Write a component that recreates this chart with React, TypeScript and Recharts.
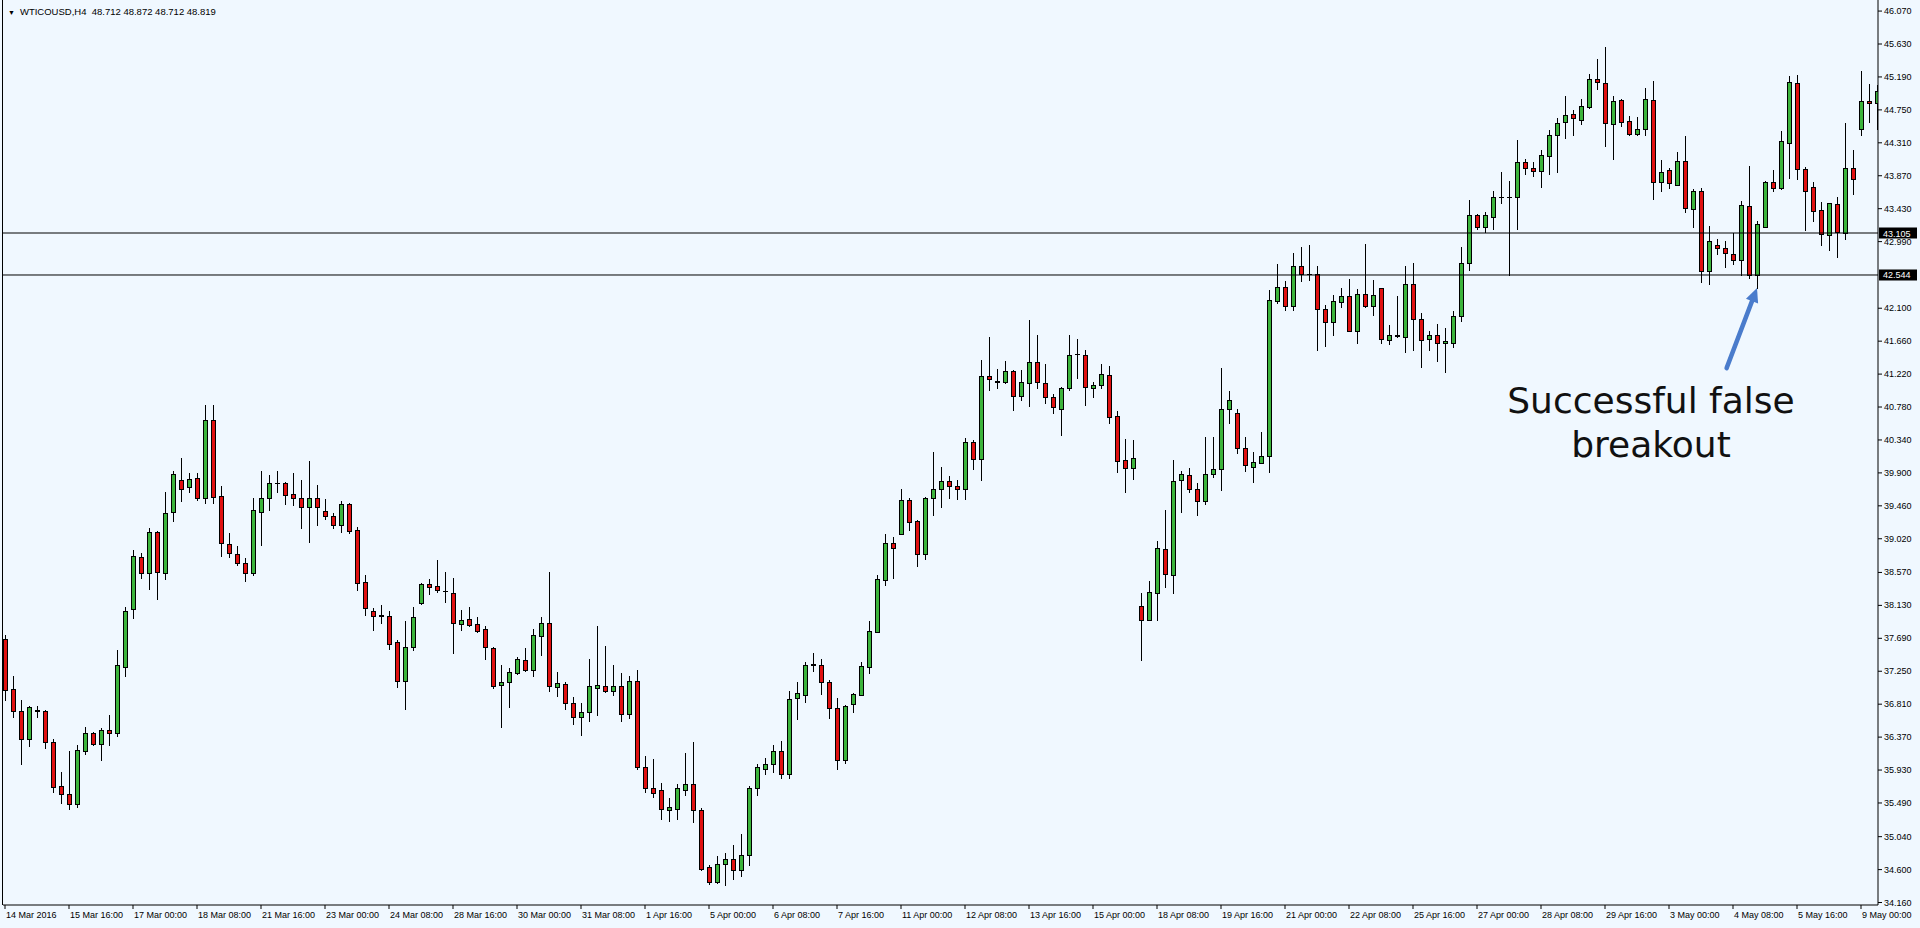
import React from 'react';
import { ComposedChart, Bar, XAxis, YAxis, ReferenceLine, ReferenceDot } from 'recharts';

const opens = [
  37.68, 37.01, 36.72, 36.34, 36.73, 36.72, 36.30, 35.72, 35.61, 35.47,
  36.19, 36.43, 36.28, 36.47, 36.42, 37.31, 38.08, 38.77, 38.56, 39.11,
  38.56, 39.38, 39.81, 39.71, 39.83, 39.57, 40.61, 39.59, 38.95, 38.81,
  38.69, 38.56, 39.38, 39.56, 39.77, 39.76, 39.62, 39.57, 39.44, 39.56,
  39.39, 39.32, 39.21, 39.48, 39.14, 38.44, 38.05, 37.99, 37.99, 37.64,
  37.12, 37.57, 38.16, 38.42, 38.39, 38.32, 38.30, 37.88, 37.95, 37.88,
  37.81, 37.56, 37.06, 37.10, 37.23, 37.40, 37.27, 37.72, 37.90, 37.04,
  37.08, 36.83, 36.64, 36.71, 37.03, 37.05, 36.99, 37.05, 36.68, 37.12,
  35.97, 35.69, 35.66, 35.40, 35.41, 35.67, 35.75, 35.39, 34.63, 34.44,
  34.67, 34.74, 34.60, 34.80, 35.69, 35.95, 36.01, 36.19, 35.88, 36.89,
  36.93, 37.34, 37.34, 37.11, 36.76, 36.06, 36.81, 36.93, 37.31, 37.77,
  38.47, 38.96, 39.09, 39.54, 39.26, 38.82, 39.56, 39.68, 39.79, 39.73,
  39.68, 40.31, 40.08, 41.20, 41.12, 41.12, 41.26, 40.93, 41.10, 41.38,
  41.10, 40.91, 40.76, 41.04, 41.49, 41.48, 41.03, 41.07, 41.21, 40.66,
  40.07, 39.96, 38.12, 37.93, 38.29, 38.88, 38.53, 39.81, 39.87, 39.69,
  39.52, 39.88, 39.95, 40.75, 40.70, 40.23, 39.98, 40.03, 40.13, 42.19,
  42.38, 42.13, 42.66, 42.56, 42.56, 42.09, 41.92, 42.18, 42.26, 41.80,
  42.29, 42.13, 42.37, 41.68, 41.74, 41.72, 42.43, 41.95, 41.69, 41.74,
  41.63, 41.64, 42.00, 42.70, 43.35, 43.18, 43.32, 43.58, 43.59, 43.58,
  44.05, 43.97, 43.94, 44.14, 44.41, 44.59, 44.69, 44.62, 44.79, 45.16,
  45.11, 44.56, 44.88, 44.60, 44.43, 44.49, 44.88, 43.78, 43.95, 43.75,
  44.07, 43.43, 43.67, 42.60, 42.94, 42.91, 42.83, 42.74, 43.47, 42.54,
  43.19, 43.78, 43.71, 44.31, 45.11, 43.96, 43.72, 43.41, 43.08, 43.49,
  43.11, 43.98, 44.50, 44.87, 44.84,
];

const highs = [
  37.73, 37.18, 36.87, 36.79, 36.78, 36.73, 36.35, 35.91, 36.18, 36.27,
  36.51, 36.44, 36.49, 36.67, 37.53, 38.11, 38.87, 38.83, 39.16, 39.13,
  39.64, 39.92, 40.10, 39.90, 39.90, 40.81, 40.81, 39.73, 39.10, 38.92,
  38.76, 39.56, 39.92, 39.87, 39.93, 39.78, 39.90, 39.81, 40.06, 39.74,
  39.55, 39.36, 39.52, 39.50, 39.18, 38.54, 38.09, 38.13, 38.06, 37.67,
  37.92, 38.11, 38.43, 38.48, 38.74, 38.57, 38.49, 38.07, 38.11, 37.97,
  37.86, 37.58, 37.33, 37.30, 37.44, 37.56, 37.82, 37.97, 38.57, 37.24,
  37.11, 36.91, 36.82, 37.41, 37.85, 37.59, 37.34, 37.22, 37.18, 37.26,
  36.12, 36.08, 35.76, 35.55, 35.75, 36.16, 36.30, 35.42, 34.66, 34.78,
  34.82, 34.93, 35.08, 35.72, 36.01, 36.09, 36.27, 36.32, 36.99, 37.10,
  37.38, 37.49, 37.42, 37.13, 36.89, 36.80, 36.96, 37.38, 37.92, 38.54,
  39.09, 39.05, 39.69, 39.57, 39.27, 39.58, 40.18, 39.98, 39.86, 39.81,
  40.37, 40.34, 41.41, 41.72, 41.29, 41.40, 41.28, 41.28, 41.94, 41.74,
  41.36, 40.95, 41.05, 41.74, 41.69, 41.54, 41.12, 41.36, 41.33, 40.73,
  40.35, 40.34, 38.29, 38.46, 38.99, 39.40, 40.07, 39.93, 39.96, 39.77,
  40.38, 40.38, 41.30, 41.00, 40.76, 40.38, 40.18, 40.44, 42.34, 42.69,
  42.47, 42.84, 42.92, 42.95, 42.67, 42.14, 42.28, 42.37, 42.49, 42.36,
  42.96, 42.48, 42.37, 41.88, 42.26, 42.66, 42.70, 42.03, 41.80, 41.89,
  41.83, 42.06, 42.92, 43.55, 43.36, 43.39, 43.67, 43.92, 43.80, 44.35,
  44.09, 44.06, 44.21, 44.48, 44.64, 44.93, 44.75, 44.90, 45.23, 45.43,
  45.59, 44.94, 44.89, 44.67, 44.66, 45.04, 45.13, 44.08, 43.97, 44.19,
  44.40, 43.69, 43.71, 43.20, 43.03, 43.00, 43.11, 43.53, 44.00, 43.27,
  43.80, 43.95, 44.47, 45.20, 45.22, 43.99, 43.79, 43.52, 43.51, 43.58,
  44.57, 44.21, 45.27, 45.10, 45.08,
];

const lows = [
  36.87, 36.64, 36.01, 36.25, 36.64, 36.23, 35.64, 35.49, 35.41, 35.43,
  36.15, 36.27, 36.07, 36.27, 36.38, 37.19, 37.96, 38.50, 38.35, 38.21,
  38.48, 39.26, 39.53, 39.65, 39.54, 39.50, 39.50, 38.79, 38.77, 38.67,
  38.46, 38.54, 38.94, 39.40, 39.65, 39.49, 39.47, 39.16, 38.98, 39.21,
  39.28, 39.17, 39.11, 39.10, 38.33, 38.00, 37.80, 37.90, 37.55, 37.04,
  36.75, 37.53, 38.15, 38.28, 38.31, 38.17, 37.50, 37.80, 37.86, 37.77,
  37.41, 37.02, 36.50, 36.77, 37.21, 37.25, 37.19, 37.47, 36.99, 36.92,
  36.75, 36.55, 36.40, 36.59, 36.66, 36.97, 36.93, 36.59, 36.63, 35.95,
  35.64, 35.57, 35.28, 35.25, 35.28, 35.60, 35.23, 34.59, 34.41, 34.42,
  34.39, 34.47, 34.52, 34.66, 35.60, 35.88, 35.91, 35.82, 35.82, 36.61,
  36.84, 37.25, 36.95, 36.63, 35.95, 36.02, 36.71, 36.93, 37.22, 37.77,
  38.40, 38.49, 39.08, 39.14, 38.66, 38.75, 39.34, 39.44, 39.57, 39.55,
  39.55, 39.95, 39.80, 41.01, 41.03, 41.10, 40.74, 40.88, 40.79, 41.04,
  40.84, 40.70, 40.41, 41.01, 41.17, 40.81, 40.92, 41.03, 40.56, 39.91,
  39.65, 39.82, 37.40, 37.93, 37.94, 38.37, 38.29, 39.38, 39.65, 39.34,
  39.49, 39.85, 39.67, 40.56, 40.16, 39.92, 39.78, 40.03, 39.91, 42.17,
  42.08, 42.08, 42.46, 42.48, 41.54, 41.60, 41.74, 42.11, 41.79, 41.63,
  42.11, 42.01, 41.63, 41.62, 41.72, 41.51, 41.54, 41.31, 41.54, 41.39,
  41.25, 41.58, 41.93, 42.61, 43.16, 43.12, 43.16, 43.51, 42.54, 43.16,
  43.90, 43.86, 43.72, 43.90, 43.92, 44.37, 44.41, 44.56, 44.78, 45.03,
  44.27, 44.09, 44.53, 44.41, 44.42, 44.41, 43.56, 43.67, 43.71, 43.74,
  43.38, 43.18, 42.45, 42.43, 42.83, 42.65, 42.69, 42.54, 42.51, 42.37,
  43.18, 43.66, 43.69, 43.84, 43.83, 43.15, 43.27, 42.94, 42.88, 42.78,
  43.03, 43.63, 44.41, 44.59, 44.50,
];

const closes = [
  37.00, 36.72, 36.34, 36.77, 36.72, 36.30, 35.71, 35.61, 35.47, 36.20,
  36.43, 36.28, 36.47, 36.42, 37.33, 38.06, 38.79, 38.56, 39.11, 38.57,
  39.37, 39.89, 39.69, 39.82, 39.56, 40.61, 39.58, 38.96, 38.83, 38.69,
  38.56, 39.40, 39.56, 39.77, 39.76, 39.61, 39.57, 39.44, 39.56, 39.44,
  39.32, 39.21, 39.48, 39.12, 38.43, 38.10, 37.99, 38.00, 37.62, 37.12,
  37.58, 37.97, 38.42, 38.38, 38.33, 38.32, 37.89, 37.93, 37.87, 37.79,
  37.57, 37.05, 37.10, 37.24, 37.41, 37.27, 37.73, 37.90, 37.05, 37.09,
  36.83, 36.64, 36.71, 37.05, 37.07, 36.98, 37.05, 36.68, 37.12, 35.97,
  35.69, 35.62, 35.41, 35.44, 35.69, 35.75, 35.39, 34.61, 34.44, 34.67,
  34.74, 34.60, 34.80, 35.69, 35.97, 36.01, 36.19, 35.88, 36.88, 36.96,
  37.34, 37.35, 37.10, 36.76, 36.06, 36.79, 36.95, 37.32, 37.79, 38.48,
  38.97, 38.89, 39.54, 39.25, 38.82, 39.57, 39.69, 39.79, 39.72, 39.69,
  40.31, 40.08, 41.20, 41.15, 41.13, 41.26, 40.93, 41.11, 41.38, 41.11,
  40.91, 40.78, 41.04, 41.48, 41.49, 41.05, 41.08, 41.22, 40.65, 40.06,
  39.96, 40.10, 37.94, 38.31, 38.89, 38.55, 39.79, 39.88, 39.69, 39.52,
  39.88, 39.95, 40.75, 40.87, 40.23, 40.00, 40.04, 40.13, 42.21, 42.38,
  42.13, 42.66, 42.56, 42.56, 42.09, 41.92, 42.19, 42.26, 41.80, 42.29,
  42.13, 42.28, 41.69, 41.74, 41.73, 42.43, 41.95, 41.68, 41.74, 41.63,
  41.66, 42.00, 42.71, 43.35, 43.19, 43.35, 43.58, 43.58, 43.59, 44.06,
  43.98, 43.94, 44.15, 44.41, 44.58, 44.68, 44.64, 44.80, 45.16, 45.12,
  44.57, 44.87, 44.59, 44.43, 44.49, 44.90, 43.79, 43.92, 43.77, 44.07,
  43.44, 43.67, 42.60, 43.00, 42.91, 42.84, 42.75, 43.48, 42.54, 43.23,
  43.79, 43.71, 44.33, 45.12, 43.96, 43.66, 43.40, 43.09, 43.50, 43.12,
  43.98, 43.82, 44.87, 44.84, 45.00,
];

const timeLabels = [
  '14 Mar 2016', '15 Mar 16:00', '17 Mar 00:00', '18 Mar 08:00', '21 Mar 16:00',
  '23 Mar 00:00', '24 Mar 08:00', '28 Mar 16:00', '30 Mar 00:00', '31 Mar 08:00',
  '1 Apr 16:00', '5 Apr 00:00', '6 Apr 08:00', '7 Apr 16:00', '11 Apr 00:00',
  '12 Apr 08:00', '13 Apr 16:00', '15 Apr 00:00', '18 Apr 08:00', '19 Apr 16:00',
  '21 Apr 00:00', '22 Apr 08:00', '25 Apr 16:00', '27 Apr 00:00', '28 Apr 08:00',
  '29 Apr 16:00', '3 May 00:00', '4 May 08:00', '5 May 16:00', '9 May 00:00',
];
const labelEvery = 8;

const priceTicks = [
  46.07, 45.63, 45.19, 44.75, 44.31, 43.87, 43.43, 42.99, 42.1, 41.66, 41.22,
  40.78, 40.34, 39.9, 39.46, 39.02, 38.57, 38.13, 37.69, 37.25, 36.81, 36.37,
  35.93, 35.49, 35.04, 34.6, 34.16,
];

const levels = [43.105, 42.544];

const symbolTitle = 'WTICOUSD,H4  48.712 48.872 48.712 48.819';
const noteLines = ['Successful false', 'breakout'];
const notePoint = { x: 205.75, y: 40.7 };
const arrowFrom = { x: 215.2, y: 41.3 };
const arrowTo = { x: 219, y: 42.37 };

const data = opens.map((o, i) => ({
  i,
  open: o,
  high: highs[i],
  low: lows[i],
  close: closes[i],
  range: [lows[i], highs[i]],
}));
const xTicks = timeLabels.map((_, k) => k * labelEvery);

const BG = '#f0f8ff';
const GREEN = '#3cb43c';
const RED = '#e01010';
const FONT = '"Liberation Sans", Arial, sans-serif';

const Candle = (props: any) => {
  const { x, y, width, height, payload } = props;
  if (payload == null || x == null) return null;
  const { open, close, high, low } = payload;
  const top0 = Math.min(y, y + height);
  const h = Math.abs(height);
  const k = high - low > 0 ? h / (high - low) : 0;
  const yOf = (v: number) => top0 + (high - v) * k;
  const cx = Math.round(x + width / 2) + 0.5;
  const yHigh = Math.round(top0) + 0.5;
  const yLow = Math.round(top0 + h) + 0.5;
  const bTop = Math.round(yOf(Math.max(open, close))) + 0.5;
  const bBot = Math.round(yOf(Math.min(open, close))) + 0.5;
  const bull = close > open;
  return (
    <g shapeRendering="crispEdges">
      <line x1={cx} x2={cx} y1={yHigh - 0.5} y2={yLow + 0.5} stroke="#000" strokeWidth={1} />
      {bBot - bTop < 1 ? (
        <line x1={cx - 2.5} x2={cx + 2.5} y1={bTop} y2={bTop} stroke="#000" strokeWidth={1} />
      ) : (
        <rect x={cx - 2} y={bTop} width={4} height={bBot - bTop} fill={bull ? GREEN : RED} stroke="#000" strokeWidth={1} />
      )}
    </g>
  );
};

const XTick = (props: any) => {
  const { x, y, payload } = props;
  const label = timeLabels[Math.round(payload.value / labelEvery)] ?? '';
  return (
    <text x={x + 1} y={y + 9} fontSize={9} fontFamily={FONT} fill="#000" textAnchor="start">
      {label}
    </text>
  );
};

const YTick = (props: any) => {
  const { x, y, payload } = props;
  return (
    <text x={x + 2} y={y + 3} fontSize={9} fontFamily={FONT} fill="#000" textAnchor="start">
      {Number(payload.value).toFixed(3)}
    </text>
  );
};

const LevelLabel = (value: number) => (props: any) => {
  const vb = props.viewBox || {};
  const x0 = vb.x + vb.width + 1;
  const yc = vb.y;
  return (
    <g>
      <rect x={x0} y={yc - 5.5} width={38} height={11} fill="#000" />
      <text x={x0 + 4} y={yc + 3.5} fontSize={9} fontFamily={FONT} fill="#fff" textAnchor="start">
        {value.toFixed(3)}
      </text>
    </g>
  );
};

const Arrow = (props: any) => {
  const { x1, y1, x2, y2 } = props;
  if (x1 == null) return null;
  const dx = x2 - x1;
  const dy = y2 - y1;
  const len = Math.sqrt(dx * dx + dy * dy) || 1;
  const ux = dx / len;
  const uy = dy / len;
  const headL = 14;
  const headW = 6.5;
  const bx = x2 - ux * headL;
  const by = y2 - uy * headL;
  return (
    <g>
      <line x1={x1} y1={y1} x2={bx + ux * 1} y2={by + uy * 1} stroke="#4a7ccc" strokeWidth={4.5} strokeLinecap="round" />
      <polygon
        points={`${x2},${y2} ${bx - uy * headW},${by + ux * headW} ${bx + uy * headW},${by - ux * headW}`}
        fill="#4a7ccc"
      />
    </g>
  );
};

const Note = (props: any) => {
  const { cx, cy } = props;
  if (cx == null) return null;
  return (
    <g>
      {noteLines.map((t, k) => (
        <text key={k} x={cx} y={cy + k * 44} fontSize={36} fontFamily='"DejaVu Sans", Verdana, sans-serif' fill="#111" textAnchor="middle">
          {t}
        </text>
      ))}
    </g>
  );
};

export default function App() {
  return (
    <div style={{ position: 'absolute', left: 0, top: 0, width: 1920, height: 928, background: BG }}>
      <ComposedChart
        width={1920}
        height={928}
        data={data}
        margin={{ top: 0, right: 0, bottom: 0, left: 3 }}
        style={{ background: BG }}
      >
        <XAxis
          dataKey="i"
          type="number"
          domain={[-0.25, 234.125]}
          allowDataOverflow
          ticks={xTicks}
          interval={0}
          height={23}
          tickSize={4}
          tickMargin={0}
          tick={<XTick />}
          axisLine={{ stroke: '#000' }}
          tickLine={{ stroke: '#000' }}
        />
        <YAxis
          orientation="right"
          type="number"
          domain={[34.127, 46.218]}
          allowDataOverflow
          ticks={priceTicks}
          interval={0}
          width={42}
          tickSize={4}
          tickMargin={0}
          tick={<YTick />}
          axisLine={{ stroke: '#000' }}
          tickLine={{ stroke: '#000' }}
        />
        {levels.map((lv) => (
          <ReferenceLine key={lv} y={lv} stroke="#000" strokeWidth={1} label={LevelLabel(lv)} />
        ))}
        <Bar dataKey="range" barSize={5} shape={<Candle />} isAnimationActive={false} />
        <ReferenceLine segment={[arrowFrom, arrowTo]} shape={(p: any) => <Arrow {...p} />} />
        <ReferenceDot x={notePoint.x} y={notePoint.y} r={0} shape={(p: any) => <Note {...p} />} />
      </ComposedChart>
      <div
        style={{
          position: 'absolute',
          left: 8,
          top: 5,
          fontFamily: FONT,
          fontSize: 9.5,
          color: '#000',
          whiteSpace: 'pre',
          lineHeight: '14px',
        }}
      >
        <span style={{ fontSize: 7, marginRight: 5 }}>▼</span>
        {symbolTitle}
      </div>
      <div style={{ position: 'absolute', left: 2, top: 0, width: 1, height: 905, background: '#000' }} />
    </div>
  );
}
